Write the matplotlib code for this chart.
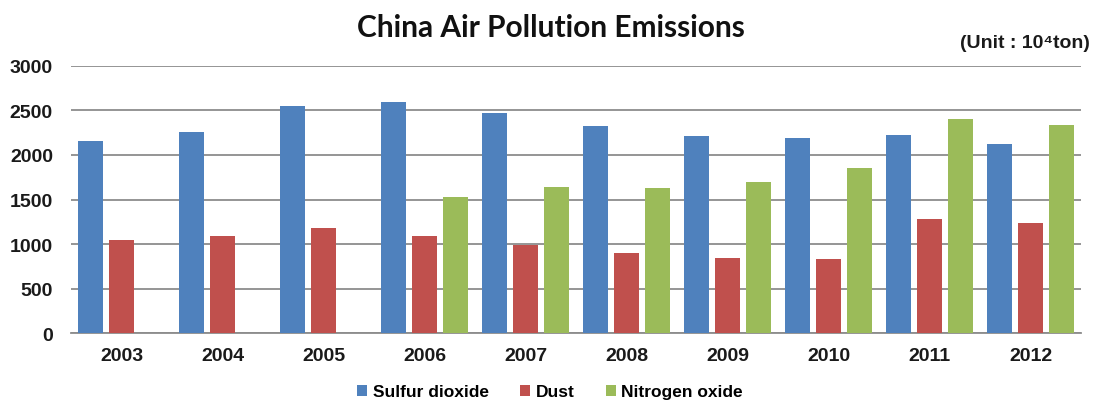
import numpy as np
import matplotlib
matplotlib.use("Agg")
import matplotlib.pyplot as plt
from matplotlib.patches import Patch

years = ["2003", "2004", "2005", "2006", "2007", "2008", "2009", "2010", "2011", "2012"]
sulfur_dioxide = [2159, 2255, 2549, 2589, 2468, 2321, 2214, 2185, 2218, 2118]
dust = [1049, 1095, 1183, 1089, 987, 902, 847, 829, 1279, 1234]
nitrogen_oxide = [np.nan, np.nan, np.nan, 1524, 1643, 1625, 1693, 1852, 2404, 2338]
series_names = ["Sulfur dioxide", "Dust", "Nitrogen oxide"]
y_ticks = [0, 500, 1000, 1500, 2000, 2500, 3000]

colors = ["#4F81BD", "#C0504D", "#9BBB59"]
font = ["Liberation Sans", "DejaVu Sans"]

fig = plt.figure(figsize=(10.93, 4.02), dpi=100)
ax = fig.add_axes([71 / 1093, (402 - 334.3) / 402, (1081 - 71) / 1093, (334.3 - 66.7) / 402])

x = np.arange(len(years))
width = 0.238
step = 0.307
for i, (vals, col) in enumerate(zip([sulfur_dioxide, dust, nitrogen_oxide], colors)):
    ax.bar(x + (i - 1) * step, vals, width=width, color=col, zorder=3)

ax.set_xlim(-0.5, len(years) - 0.5)
ax.set_ylim(0, 3000)
ax.set_yticks(y_ticks)
ax.set_yticklabels([str(v) for v in y_ticks], fontfamily=font, fontweight="bold",
                   fontsize=14, color="#1a1a1a")
ax.set_xticks(x)
ax.set_xticklabels(years, fontfamily=font, fontweight="bold", fontsize=14, color="#1a1a1a")
ax.tick_params(axis="y", length=0, pad=13)
ax.tick_params(axis="x", length=0, pad=10)

ax.yaxis.grid(True, color="#8c8c8c", linewidth=1.3, zorder=0)
for s in ["top", "right", "left"]:
    ax.spines[s].set_visible(False)
ax.spines["bottom"].set_color("#8c8c8c")
ax.spines["bottom"].set_linewidth(1.3)

fig.text(551 / 1093, 1 - 28 / 402, "China Air Pollution Emissions", ha="center", va="center",
         fontfamily=["Lato", "DejaVu Sans"], fontweight="bold", fontsize=21.5, color="#111111")
fig.text(1090 / 1093, 1 - 43 / 402, "(Unit : 10\u2074ton)", ha="right", va="center",
         fontfamily=font, fontweight="bold", fontsize=14, color="#1a1a1a")

handles = [Patch(facecolor=c, edgecolor="none") for c in colors]
fig.legend(handles, series_names, loc="center", bbox_to_anchor=(550 / 1093, 1 - 393 / 402),
           ncol=3, frameon=False, handlelength=0.6, handleheight=0.6, handletextpad=0.3,
           columnspacing=1.8, prop={"family": font, "weight": "bold", "size": 12.5})

fig.savefig("out.png", dpi=100)
